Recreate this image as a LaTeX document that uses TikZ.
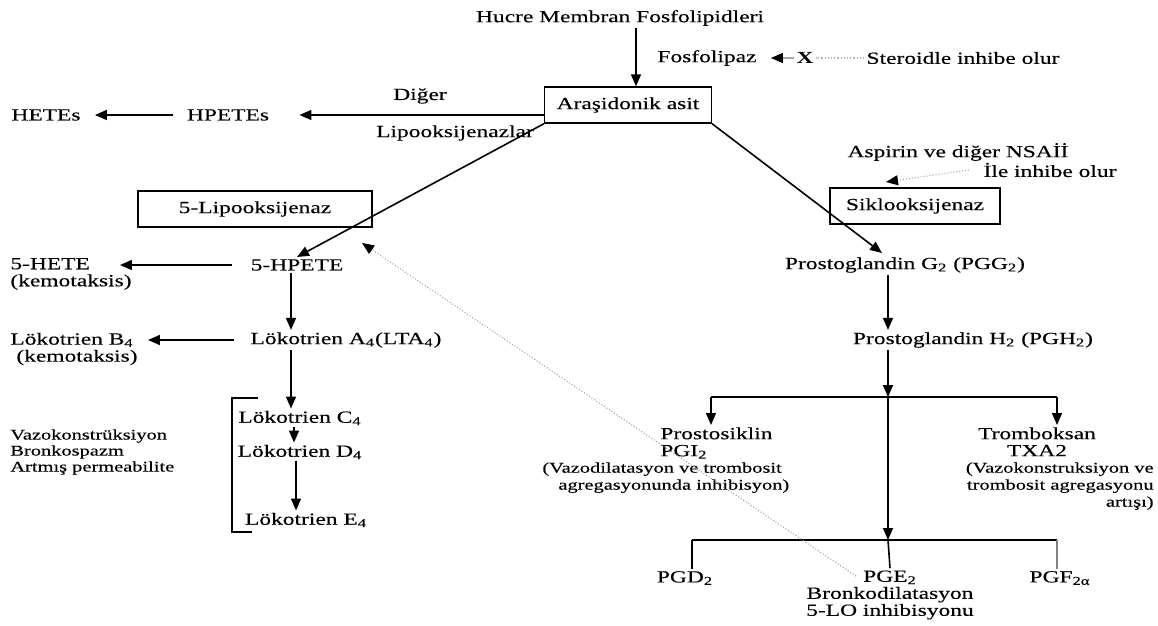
\documentclass[tikz,border=0pt]{standalone}
\usepackage{fontspec}
\setmainfont{Liberation Serif}[FakeStretch=1.38,UprightFeatures={FakeBold=0.3}]
\usetikzlibrary{arrows.meta,positioning,calc}

\begin{document}
\begin{tikzpicture}[x=0.5pt,y=-0.5pt,>={Triangle[length=6pt,width=5pt]},
    every node/.style={font=\fontsize{8.5}{8.5}\selectfont,inner sep=1pt},
    enzbox/.style={draw,line width=0.7pt,minimum height=18pt,inner xsep=6pt},
    note/.style={font=\fontsize{7.4}{8.5}\selectfont},
    flow/.style={->,line width=0.8pt},
    inhib/.style={-{Triangle[length=6pt,width=5pt,color=black]},gray!80,line width=0.5pt,densely dotted}]
    \useasboundingbox (0,0) rectangle (1158,626);
    % top
    \node (hucre) at (620,18) {Hucre Membran Fosfolipidleri};
    \node[enzbox] (aras) at (628,105) {Araşidonik asit};
    \node (fosfo) at (707,58) {Fosfolipaz};
    \node (xmark) at (805,58) {\textbf{X}};
    \node (steroid) at (963,58) {Steroidle inhibe olur};
    \node (hpetes) at (228,115) {HPETEs};
    \node (hetes) at (46,115) {HETEs};
    \node (diger) at (420,96) {Diğer};
    \node (lipo) at (455,133) {Lipooksijenazlar};
    % enzymes
    \node[enzbox,minimum width=117pt] (lox) at (255,209) {5-Lipooksijenaz};
    \node[enzbox,minimum width=85pt] (cox) at (915,206) {Siklooksijenaz};
    \node (aspirin) at (958,152) {Aspirin ve diğer NSAİİ};
    \node (ile) at (1050,170) {İle inhibe olur};
    % lipooksijenaz yolu
    \node (hpete) at (297,265) {5-HPETE};
    \node[anchor=west,align=left] (hete) at (8,274) {5-HETE\\(kemotaksis)};
    \node (lta) at (346,340) {Lökotrien A\textsubscript{4}(LTA\textsubscript{4})};
    \node[anchor=west,align=left] (ltb) at (8,349) {Lökotrien B\textsubscript{4}\\\hspace*{3pt}(kemotaksis)};
    \node (ltc) at (300,418) {Lökotrien C\textsubscript{4}};
    \node (ltd) at (300,452) {Lökotrien D\textsubscript{4}};
    \node (lte) at (306,520) {Lökotrien E\textsubscript{4}};
    \node[anchor=west,align=left,font=\fontsize{7.4}{8}\selectfont] (vazo) at (8,452) {Vazokonstrüksiyon\\Bronkospazm\\Artmış permeabilite};
    % siklooksijenaz yolu
    \node (pgg) at (905,265) {Prostoglandin G\textsubscript{2} (PGG\textsubscript{2})};
    \node (pgh) at (973,340) {Prostoglandin H\textsubscript{2} (PGH\textsubscript{2})};
    \node[anchor=north west,align=left] (pgi) at (658,425) {Prostosiklin\\PGI\textsubscript{2}};
    \node[note,anchor=north west,align=left] (pgitxt) at (540,460) {(Vazodilatasyon ve trombosit\\\hspace*{8pt}agregasyonunda inhibisyon)};
    \node[anchor=north,align=center] (txa) at (1037,425) {Tromboksan\\TXA2};
    \node[note,anchor=north east,align=right] (txatxt) at (1156,460) {(Vazokonstruksiyon ve\\trombosit agregasyonu\\artışı)};
    \node (pgd) at (685,578) {PGD\textsubscript{2}};
    \node[align=center] (pge) at (890,595) {PGE\textsubscript{2}\\Bronkodilatasyon\\5-LO inhibisyonu};
    \node (pgf) at (1060,578) {PGF\textsubscript{2α}};
    \coordinate (pggin) at (882,253);
    \coordinate (coxin) at (886,182);
    \coordinate (loxin) at (362,243);
    \coordinate (brA) at (888,397);
    \coordinate (brL) at (711,397);
    \coordinate (brR) at (1057,397);
    \coordinate (brB) at (888,540);
    \coordinate (bL) at (692,540);
    \coordinate (bR) at (1057,540);
    % arrows
    \draw[flow] ([xshift=8pt]hucre.south) -- ([xshift=8pt]hucre.south |- aras.north);
    \draw[->,gray!70,line width=0.6pt,shorten >=6pt,>={Triangle[length=6pt,width=5pt,color=black]}] (xmark) -- (fosfo);
    \draw[gray!60,densely dotted,line width=0.6pt] (steroid) -- (xmark);
    \draw[flow,shorten >=14pt] (aras.west |- hpetes) -- (hpetes);
    \draw[flow,shorten <=6pt,shorten >=6pt] (hpetes) -- (hetes);
    \draw[flow] (aras.south west) -- (hpete.north);
    \draw[flow] (aras.south east) -- (pggin);
    \draw[inhib] ([xshift=-6pt]ile.west) -- (coxin);
    \draw[flow,shorten <=8pt] (hpete.west) -- ([xshift=-7pt]hpete.west -| hete.east);
    \draw[flow] ([xshift=-3pt]hpete.south) -- ([xshift=-3pt]hpete.south |- lta.north);
    \draw[flow,shorten <=7pt,shorten >=4pt] (lta.west) -- (lta.west -| ltb.east);
    \draw[flow] ([xshift=-3pt]hpete.south |- lta.south) -- ([xshift=-3pt]hpete.south |- ltc.north);
    \draw[flow] ([xshift=-3pt]ltc.south) -- ([xshift=-3pt]ltc.south |- ltd.north);
    \draw[flow] ([xshift=-2pt]ltd.south) -- ([xshift=-2pt]ltd.south |- lte.north);
    \draw[line width=0.6pt] (258,398) -| (232,532) -- (252,532);
    \draw[flow] (pgg.south -| brA) -- (pgh.north -| brA);
    \draw[flow] (pgh.south -| brA) -- (brA);
    \draw[line width=0.8pt] (brL) -- (brR);
    \draw[flow] (brL) -- (brL |- pgi.north);
    \draw[flow] (brR) -- (brR |- txa.north);
    \draw[flow] (brA) -- (brB);
    \draw[line width=0.8pt] (bL) -- (bR);
    \draw[line width=0.8pt] (bL) -- (bL |- pgd.north);
    \draw[line width=0.8pt,gray] (bR) -- (bR |- pgf.north);
    \draw[line width=0.8pt] (brB) -- (pge.north);
    \draw[inhib] ($(pge.north)+(-34,8)$) -- (loxin);
\end{tikzpicture}
\end{document}
